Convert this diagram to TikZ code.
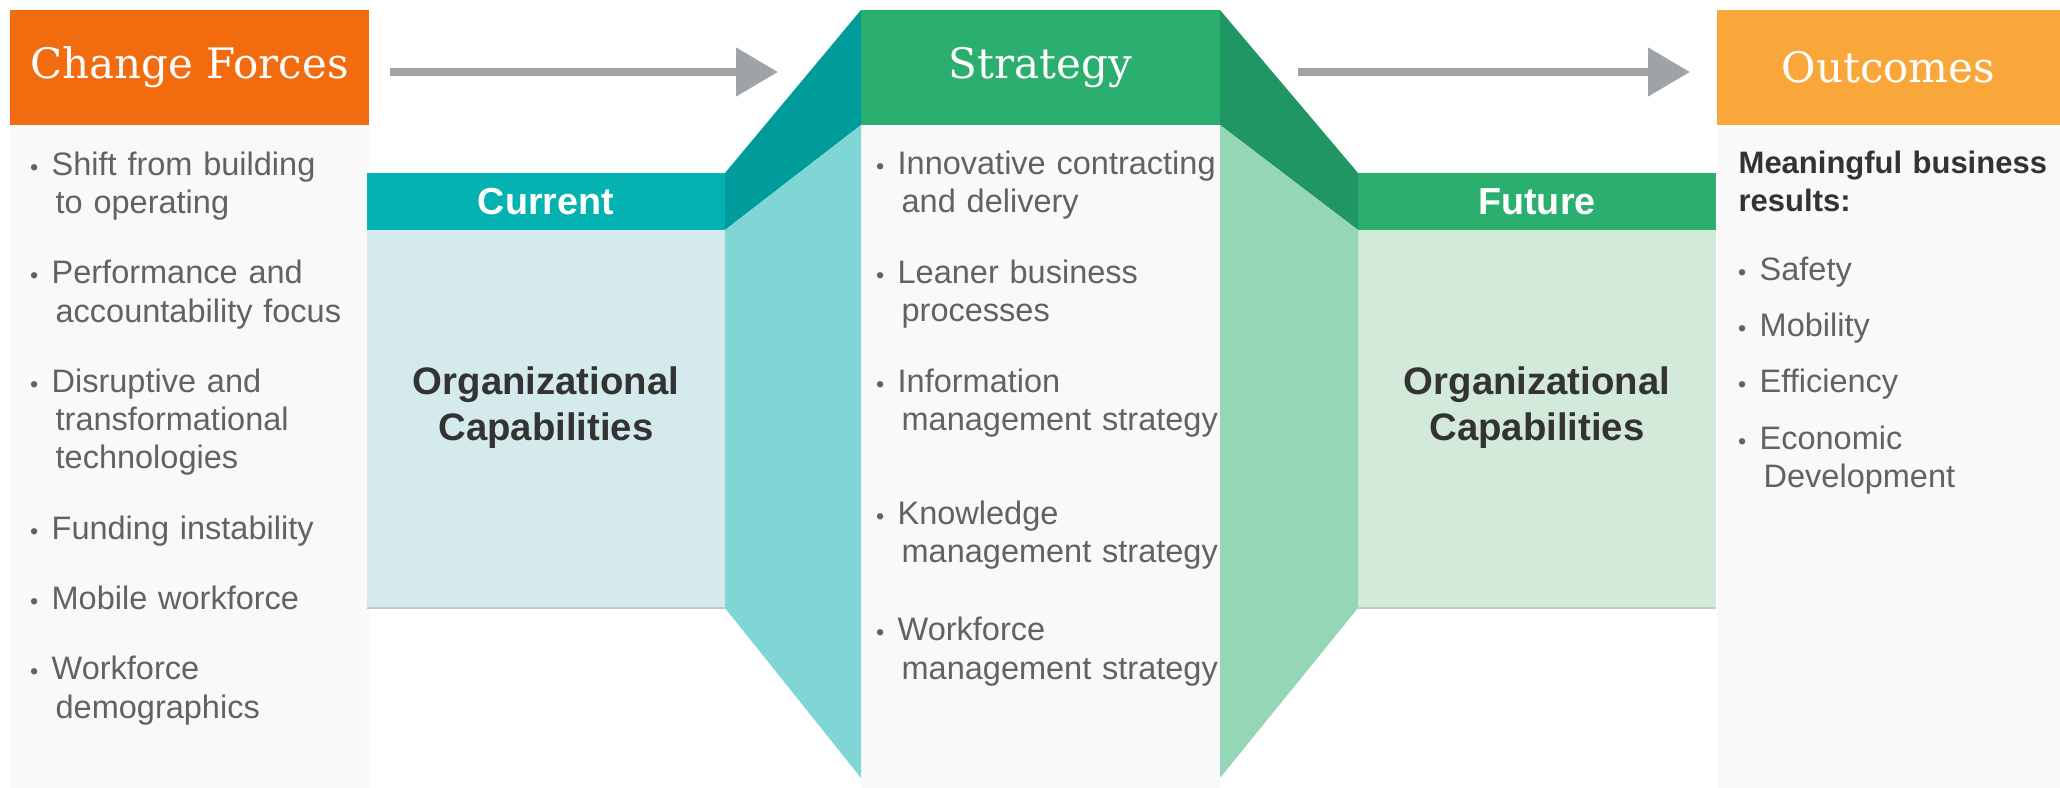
\documentclass[tikz,border=0pt]{standalone}
\usepackage{fontspec}
\setmainfont{Liberation Sans}
\newfontfamily\slabfont{DejaVu Serif}
\usetikzlibrary{arrows.meta}
\definecolor{cforange}{HTML}{F26B0F}
\definecolor{outorange}{HTML}{F9A73A}
\definecolor{stgreen}{HTML}{2AAF6E}
\definecolor{greendark}{HTML}{1F9663}
\definecolor{greenlight}{HTML}{94D6B6}
\definecolor{futpale}{HTML}{D3EADB}
\definecolor{curteal}{HTML}{04B2B2}
\definecolor{tealdark}{HTML}{009B9B}
\definecolor{teallight}{HTML}{80D5D5}
\definecolor{curpale}{HTML}{D5EAEC}
\definecolor{paper}{HTML}{F9F9F9}
\definecolor{arrowgray}{HTML}{A0A3A6}
\definecolor{bodytext}{HTML}{626262}
\definecolor{darktext}{HTML}{333333}
\newcommand{\bul}{\leavevmode\llap{{\fontsize{7}{7}\selectfont\textbullet}\hspace{4pt}}}
\newcommand{\cont}{\hspace*{1.2pt}}

\begin{document}
\begin{tikzpicture}
[x=0.3pt, y=-0.3pt,
head/.style ={rectangle, anchor=north west, inner sep=0pt, outer sep=0pt, text=white, font=\slabfont\fontsize{12.6}{15}\selectfont, minimum width=107.7pt, minimum height=34.5pt},
panel/.style ={rectangle, anchor=north west, inner sep=0pt, outer sep=0pt, fill=paper, minimum width=107.7pt, minimum height=198.9pt},
tab/.style ={rectangle, anchor=north west, inner sep=0pt, outer sep=0pt, text=white, font=\bfseries\fontsize{11.3}{13}\selectfont, minimum width=107.4pt, minimum height=17.1pt},
capbody/.style ={rectangle, anchor=north west, inner sep=0pt, outer sep=0pt, minimum width=107.4pt, minimum height=113.4pt},
orgcap/.style ={align=center, inner sep=0pt, text=darktext, font=\bfseries\fontsize{11.5}{13.8}\selectfont},
listing/.style ={anchor=base west, inner sep=0pt, text width=120pt, align=left, text=bodytext, font=\fontsize{9.75}{11.5}\selectfont},
lead/.style ={listing, text=darktext, font=\bfseries\fontsize{9.3}{11.5}\selectfont},
flow/.style ={draw=arrowgray, line width=2.4pt, -{Triangle[length=12.6pt, width=14.1pt]}},
rim/.style ={draw=black!22, line width=0.5pt}]
\useasboundingbox (0,0) rectangle (2060,788);
\draw (10,10) node[head, fill=cforange] (cfhead) {Change Forces};
\draw (10,125) node[panel] (cfbody) {};
\draw (367,173) node[tab, fill=curteal] (curhead) {Current};
\draw (367,230) node[capbody, fill=curpale] (curbody) {};
\draw (861,10) node[head, fill=stgreen] (sthead) {Strategy};
\draw (861,125) node[panel] (stbody) {};
\draw (1358,173) node[tab, fill=stgreen] (futhead) {Future};
\draw (1358,230) node[capbody, fill=futpale] (futbody) {};
\draw (1717,10) node[head, fill=outorange, minimum width=102.9pt] (outhead) {Outcomes};
\draw (1717,125) node[panel, minimum width=102.9pt] (outbody) {};
\fill[tealdark] (curhead.north east) -- (sthead.north west) -- (sthead.south west) -- (curhead.south east) -- cycle;
\fill[teallight] (curhead.south east) -- (sthead.south west) -- ([yshift=3pt]stbody.south west) -- (curbody.south east) -- cycle;
\fill[greendark] (sthead.north east) -- (futhead.north west) -- (futhead.south west) -- (sthead.south east) -- cycle;
\fill[greenlight] (sthead.south east) -- (futhead.south west) -- (futbody.south west) -- ([yshift=3pt]stbody.south east) -- cycle;
\draw[rim] (curbody.south west) -- (curbody.south east);
\draw[rim] (futbody.south west) -- (futbody.south east);
\draw ([yshift=3.3pt]curbody.center) node[orgcap] (curcap) {Organizational\\Capabilities};
\draw ([yshift=3.3pt]futbody.center) node[orgcap] (futcap) {Organizational\\Capabilities};
\draw (51,175) node[listing] (cflist) {\bul Shift from building\\\cont to operating\\[9.6pt]
\bul Performance and\\\cont accountability focus\\[9.6pt]
\bul Disruptive and\\\cont transformational\\\cont technologies\\[9.6pt]
\bul Funding instability\\[9.6pt]
\bul Mobile workforce\\[9.6pt]
\bul Workforce\\\cont demographics};
\draw (897,174) node[listing] (stlist) {\bul Innovative contracting\\\cont and delivery\\[9.7pt]
\bul Leaner business\\\cont processes\\[9.7pt]
\bul Information\\\cont management strategy\\[16.6pt]
\bul Knowledge\\\cont management strategy\\[12.1pt]
\bul Workforce\\\cont management strategy};
\draw (1738,173) node[lead] (outlead) {Meaningful business\\results:};
\draw (1759,280) node[listing] (outlist) {\bul Safety\\[5.4pt]
\bul Mobility\\[5.4pt]
\bul Efficiency\\[5.4pt]
\bul Economic\\\cont Development};
\draw[flow, shorten <=6.3pt, shorten >=24.9pt] ([yshift=-1.35pt]cfhead.east) -- ([yshift=-1.35pt]sthead.west);
\draw[flow, shorten <=23.4pt, shorten >=8.1pt] ([yshift=-1.35pt]sthead.east) -- ([yshift=-1.35pt]outhead.west);
\end{tikzpicture}
\end{document}
